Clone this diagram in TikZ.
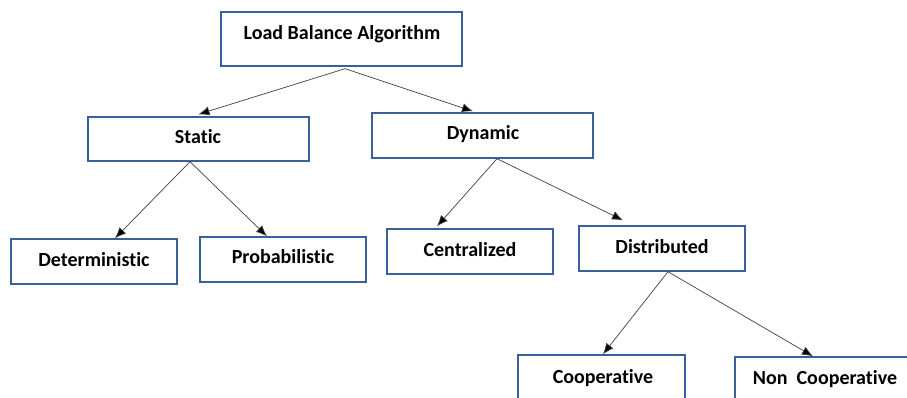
\documentclass[tikz,border=0pt]{standalone}
\usepackage{fontspec}
\setmainfont[Ligatures=NoCommon]{Carlito}
\usetikzlibrary{arrows.meta}
\definecolor{boxblue}{HTML}{3A5F9A}
\definecolor{linegray}{HTML}{404040}
\tikzset{
  box/.style={draw=boxblue, line width=1.4pt, minimum width=#1, inner sep=0pt},
  lbl/.style={font=\fontsize{20}{24}\selectfont\bfseries, anchor=base, inner sep=0pt, text=black},
  conn/.style={draw=linegray, line width=0.7pt, -{Latex[length=11pt,width=9pt,fill=black]}}
}
\begin{document}
\begin{tikzpicture}[x=1pt,y=-1pt]
\useasboundingbox (0,0) rectangle (907,398);
\clip (0,0) rectangle (907,398);
% boxes
\node[box=241pt, minimum height=54pt] (lba) at (341.5,39) {};
\node[box=221pt, minimum height=44pt] (static) at (198.5,139) {};
\node[box=221pt, minimum height=45pt] (dynamic) at (482.5,135.5) {};
\node[box=166pt, minimum height=45pt] (det) at (94,261.5) {};
\node[box=166pt, minimum height=45pt] (prob) at (283,259.5) {};
\node[box=166pt, minimum height=45pt] (cent) at (470,251.5) {};
\node[box=166pt, minimum height=45pt] (dist) at (662,248.5) {};
\node[box=167pt, minimum height=60pt] (coop) at (601.5,385) {};
\node[box=180pt, minimum height=60pt] (ncoop) at (825,387) {};
% labels
\node[lbl] (tlba) at (342,39.5) {Load Balance Algorithm};
\node[lbl] (tstatic) at (198,143.5) {Static};
\node[lbl] (tdynamic) at (483,139.5) {Dynamic};
\node[lbl] (tdet) at (94,266.5) {Deterministic};
\node[lbl] (tprob) at (283,263.5) {Probabilistic};
\node[lbl] (tcent) at (470,256.5) {Centralized};
\node[lbl] (tdist) at (662,253.5) {Distributed};
\node[lbl] (tcoop) at (603,383.5) {Cooperative};
\node[lbl] (tncoop) at (825,384.5) {Non~~Cooperative};
% connectors
\draw[conn] ([xshift=3.5pt,yshift=-2pt]lba.south) -- ([yshift=2pt]static.north);
\draw[conn] ([xshift=3.5pt,yshift=-2pt]lba.south) -- ([xshift=-9.5pt,yshift=1pt]dynamic.north);
\draw[conn] ([xshift=-8.5pt]static.south) -- ([xshift=21pt]det.north);
\draw[conn] ([xshift=-8.5pt]static.south) -- ([xshift=-16pt]prob.north);
\draw[conn] ([xshift=14.5pt]dynamic.south) -- ([xshift=-33pt,yshift=2pt]cent.north);
\draw[conn] ([xshift=14.5pt]dynamic.south) -- ([xshift=-39pt,yshift=5pt]dist.north);
\draw[conn] ([xshift=6pt]dist.south) -- ([xshift=1.5pt]coop.north);
\draw[conn] ([xshift=6pt]dist.south) -- ([xshift=-12pt]ncoop.north);
\end{tikzpicture}
\end{document}
